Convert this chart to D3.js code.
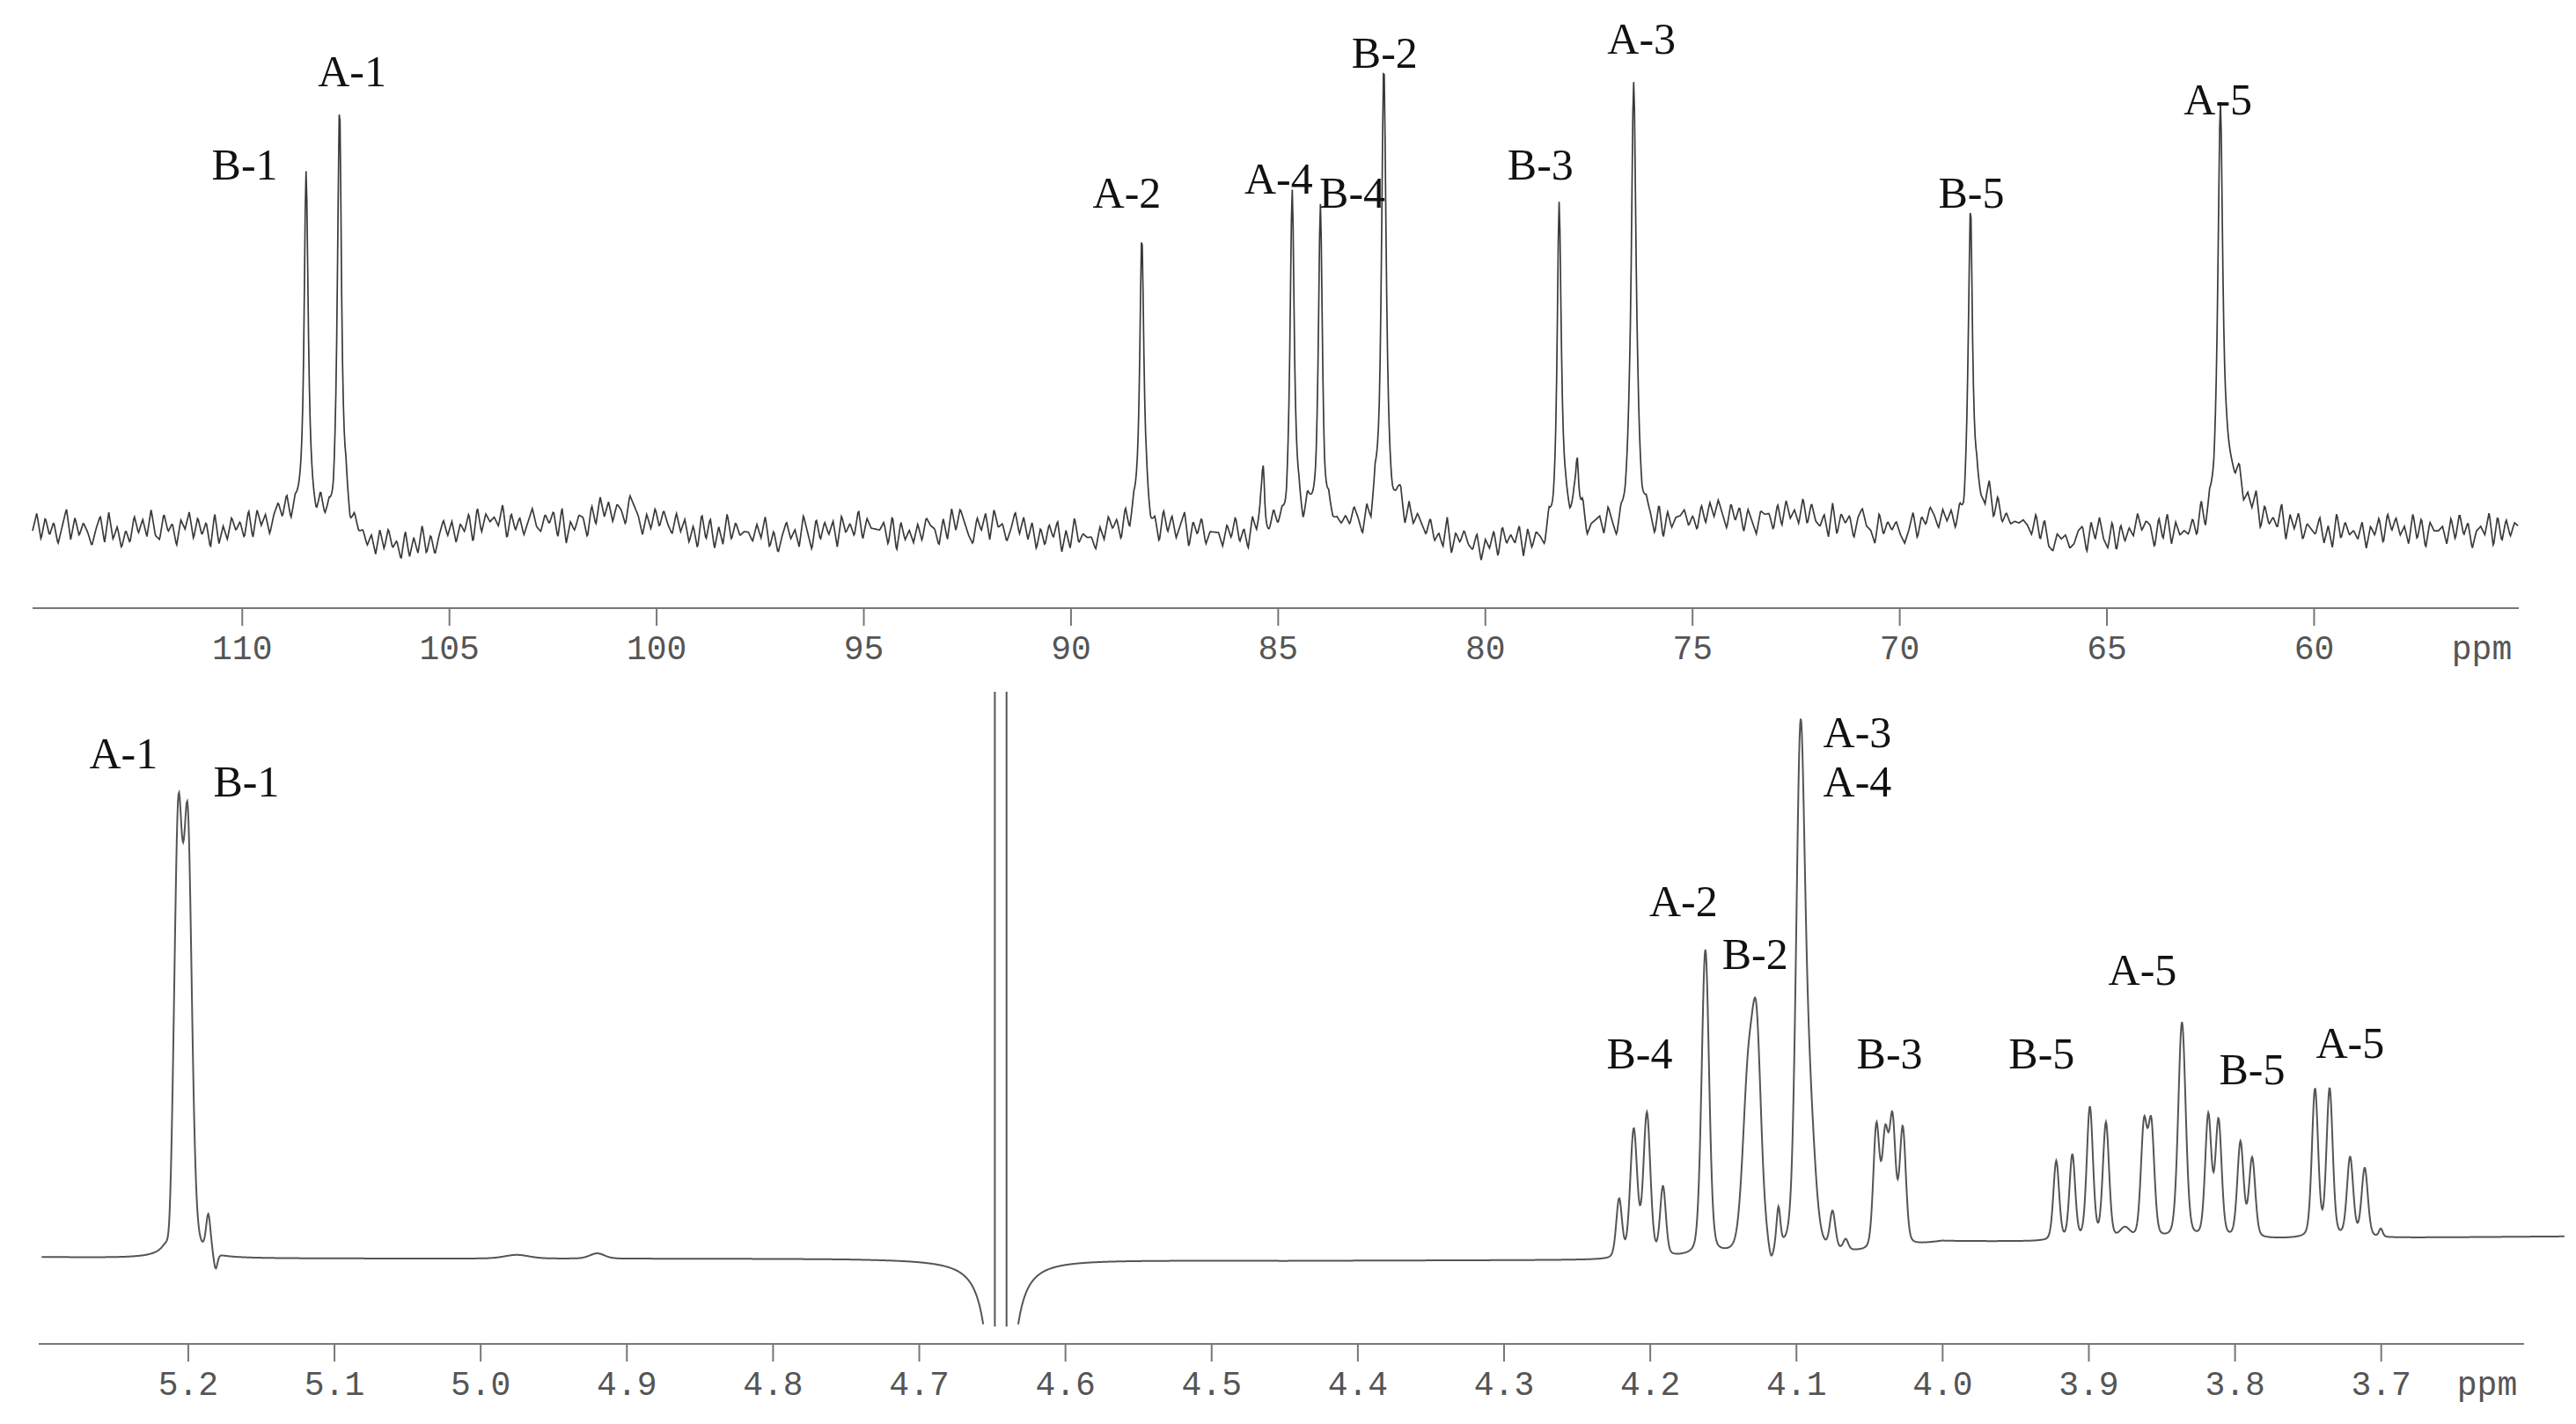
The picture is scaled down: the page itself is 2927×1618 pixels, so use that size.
<!DOCTYPE html>
<html>
<head>
<meta charset="utf-8">
<script src="https://cdn.jsdelivr.net/npm/d3@7"></script>
<style>
  body { margin: 0; background: #fff; }
  svg { display: block; }
</style>
</head>
<body>
<svg id="chart" width="2927" height="1618"></svg>
<script>
// ---- 13C spectrum (top) ----
const c13Peaks = [ // ppm, height, half width
  [108.45, 75, 0.06], [107.64, 91, 0.06], [88.28, 66, 0.06], [85.35, 15, 0.05],
  [84.65, 70, 0.06], [83.97, 66, 0.06], [82.44, 96, 0.07], [82.1, 6, 0.15],
  [78.21, 72, 0.06], [77.77, 14, 0.05], [76.41, 99, 0.07], [68.28, 66, 0.06],
  [67.9, 6, 0.2], [62.25, 86, 0.07], [61.9, 8, 0.3]
];
const c13Labels = [
  ["B-1", 109.93, 76], ["A-1", 107.34, 96], ["A-2", 88.64, 70], ["A-4", 84.98, 73],
  ["B-4", 83.2, 70], ["B-2", 82.42, 100], ["B-3", 78.66, 76], ["A-3", 76.22, 103],
  ["B-5", 68.26, 70], ["A-5", 62.31, 90]
];
// baseline drift, one value per ppm from 115 down to 55
const c13Drift = [1,1,0,1,0,0,4,1,-1,-4,0,2,2,1,5,2,0,0,-1,0,1,-1,1,1,0,-1,0,0,0,-1,0,1,1,0,-1,-3,-3,1,0,0,4,2,4,3,1,1,1,2,0,-1,-1,0,-1,3,2,0,0,0,0,0,1];
const c13Noise = ("4827361592736415829361528473932846175938471926385739284615738264175394628193745251738462937392615847" +
  "2648193756491736258437582916476183947265297516384853847261938162937455374926158462951837471846392755" +
  "5729184637386517294963174829562594837162748162935441638572938527361948369174825552749361847138462957" +
  "2963817454648517293841372958648352916474371648295759283641721674839256739516482848629173556241738596" +
  "3958274165517284639384361927572795418364631482759748572619383182947566764938215452367184942817364957" +
  "6183927454729163847538264917353917482654826193745371648295846293817556283947156491827365").split("").map(Number);
const c13Ticks = [110, 105, 100, 95, 90, 85, 80, 75, 70, 65, 60];

// ---- 1H spectrum (bottom) ----
const h1Peaks = [ // ppm, height, half width
  [5.2066, 80, 0.0033], [5.2000, 78, 0.0033], [5.2125, -4, 0.0018], [5.186, 7, 0.0018], [5.181, -3, 0.0015],
  [4.975, 0.7, 0.01], [4.92, 1.0, 0.006],
  [4.221, 11, 0.0023], [4.211, 24, 0.0028], [4.202, 27, 0.0028], [4.191, 13, 0.0023],
  [4.162, 58, 0.003], [4.133, 30, 0.0042], [4.127, 39, 0.0038], [4.112, 7, 0.0015], [4.117, -3, 0.002],
  [4.097, 93, 0.0035], [4.091, 26, 0.0045], [4.075, 7, 0.0022], [4.066, 2, 0.002],
  [4.045, 23, 0.0025], [4.039, 20, 0.0025], [4.034, 23, 0.0025], [4.027, 22, 0.0025],
  [3.922, 15, 0.0023], [3.911, 16, 0.0023], [3.899, 25, 0.0025], [3.888, 22, 0.0025], [3.875, 2, 0.004],
  [3.862, 21, 0.0025], [3.857, 21, 0.0025], [3.836, 41, 0.003],
  [3.818, 23, 0.0025], [3.811, 22, 0.0025], [3.796, 18, 0.0025], [3.788, 15, 0.0025],
  [3.745, 28, 0.0025], [3.735, 28, 0.0025], [3.721, 15, 0.0025], [3.711, 13, 0.0025], [3.700, 1.5, 0.0015]
];
const h1WaterDip = [4.644, -100, 0.0045];
const h1Base = [[5.31, 0.3], [5.22, 0], [4.75, 0], [4.45, -0.4], [4.23, -0.3], [4.05, 1], [4.0, 3.2], [3.93, 3.2], [3.70, 3.9], [3.57, 4.2]];
const h1Water = [4.648, 4.640];
const h1Labels = [
  ["A-1", 5.244, 93], ["B-1", 5.160, 87.6], ["B-4", 4.207, 36], ["A-2", 4.177, 65], ["B-2", 4.128, 55],
  ["A-3", 4.058, 97], ["A-4", 4.058, 87.6], ["B-3", 4.036, 36], ["B-5", 3.932, 36], ["A-5", 3.863, 52],
  ["B-5", 3.788, 33], ["A-5", 3.721, 38]
];
const h1Ticks = [5.2, 5.1, 5.0, 4.9, 4.8, 4.7, 4.6, 4.5, 4.4, 4.3, 4.2, 4.1, 4.0, 3.9, 3.8, 3.7];

const svg = d3.select("#chart");
const lineColor = "#555";
const lor = (x, p) => p[1] / (1 + ((x - p[0]) / p[2]) ** 2);
// pseudo-Voigt: mostly gaussian with a little lorentzian tail
const pv = (x, p) => { const t = (x - p[0]) / p[2]; return p[1] * (0.75 * Math.exp(-Math.LN2 * t * t) + 0.25 / (1 + t * t)); };

// top scales
const xTop = d3.scaleLinear().domain([115.05, 55.05]).range([37, 2862]);
const yTop = d3.scaleLinear().domain([0, 100]).range([606, 77]);
const driftScale = d3.scaleLinear().domain(d3.range(c13Drift.length).map(i => 115 - i)).range(c13Drift);
const noiseScale = d3.scaleLinear()
  .domain(c13Noise.map((d, i) => 115.05 - i * 60 / (c13Noise.length - 1)))
  .range(c13Noise.map(d => (d - 4.5) * 0.95));

const topData = d3.range(115.05, 55.05, -0.02).map(x => [x, d3.sum(c13Peaks, p => lor(x, p)) + driftScale(x) + noiseScale(x)]);
svg.append("path")
  .attr("d", d3.line().x(d => xTop(d[0])).y(d => yTop(d[1]))(topData))
  .attr("fill", "none").attr("stroke", "#3a3a3a").attr("stroke-width", 1.7);

// bottom scales
const xBot = d3.scaleLinear().domain([5.302, 3.602]).range([44, 2868]);
const yBot = d3.scaleLinear().domain([0, 100]).range([1430, 831]);
const baseScale = d3.scaleLinear().domain(h1Base.map(d => d[0])).range(h1Base.map(d => d[1]));
const floorI = -12.9;
const botData = d3.range(5.30, 3.574, -0.0004).map(x => [x, d3.sum(h1Peaks, p => pv(x, p)) + lor(x, h1WaterDip) + baseScale(x)]);
svg.append("path")
  .attr("d", d3.line().defined(d => d[1] >= floorI).x(d => xBot(d[0])).y(d => yBot(d[1]))(botData))
  .attr("fill", "none").attr("stroke", lineColor).attr("stroke-width", 2);
svg.selectAll(".water").data(h1Water).join("line")
  .attr("x1", d => xBot(d)).attr("x2", d => xBot(d))
  .attr("y1", yBot(107.5)).attr("y2", yBot(floorI))
  .attr("stroke", lineColor).attr("stroke-width", 2);

// axes
function drawAxis(x, y, major, step, fmt) {
  const [d0, d1] = x.domain();
  const minor = d3.range(Math.floor(d0 / step) * step, d1, -step).filter(v => v <= d0 && v >= d1);
  const g = svg.append("g").attr("transform", `translate(0,${y})`);
  g.call(d3.axisBottom(x).tickValues(minor).tickSize(8).tickFormat(""));
  g.call(d3.axisBottom(x).tickValues(major).tickSize(20).tickFormat(fmt));
  g.selectAll("path.domain").remove();
  g.append("line").attr("x1", x.range()[0]).attr("x2", x.range()[1]).attr("stroke", "#777").attr("stroke-width", 2.5);
  g.selectAll("line").attr("stroke", "#777").attr("stroke-width", 2);
  g.selectAll("text").attr("font-family", "Liberation Mono, DejaVu Sans Mono, monospace")
    .attr("font-size", 38).attr("fill", "#555").attr("dy", 0).attr("y", 58);
  g.append("text").attr("x", x.range()[1] - 42).attr("y", 58).attr("text-anchor", "middle")
    .attr("font-family", "Liberation Mono, monospace").attr("font-size", 38).attr("fill", "#555").text("ppm");
}
drawAxis(xTop, 691, c13Ticks, 1, d3.format("d"));
drawAxis(xBot, 1527, h1Ticks, 0.01, d3.format(".1f"));

// peak labels
const labelFont = "Liberation Serif, Times New Roman, serif";
svg.append("g").selectAll("text").data(c13Labels).join("text")
  .attr("x", d => xTop(d[1])).attr("y", d => yTop(d[2]))
  .attr("text-anchor", "middle").attr("font-family", labelFont).attr("font-size", 50).attr("fill", "#111")
  .text(d => d[0]);
svg.append("g").selectAll("text").data(h1Labels).join("text")
  .attr("x", d => xBot(d[1])).attr("y", d => yBot(d[2]))
  .attr("text-anchor", "middle").attr("font-family", labelFont).attr("font-size", 50).attr("fill", "#111")
  .text(d => d[0]);
</script>
</body>
</html>
